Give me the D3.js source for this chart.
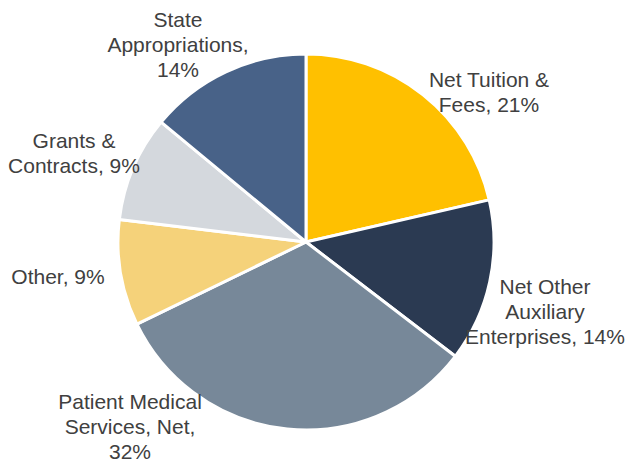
<!DOCTYPE html>
<meta charset="utf-8">
<title>Revenue Sources</title>
<style type="text/css">
	body { margin: 0; background: #ffffff; }
	text { font-family: "Liberation Sans", Arial, sans-serif; fill: #404040; }
</style>
<body>
<div id="chart"></div>
</body>
<script src="https://d3js.org/d3.v7.min.js"></script>
<script>

// slice data, clockwise from 12 o'clock
var categories = ["Net Tuition & Fees", "Net Other Auxiliary Enterprises", "Patient Medical Services, Net",
                  "Other", "Grants & Contracts", "State Appropriations"];
var shares = [21.4, 14.0, 32.4, 9.1, 9.1, 14.0];
var shareLabels = ["21%", "14%", "32%", "9%", "9%", "14%"];
// how each label is broken onto lines (last line carries the percent)
var labelLines = [
	["Net Tuition &", "Fees, {p}"],
	["Net Other", "Auxiliary", "Enterprises, {p}"],
	["Patient Medical", "Services, Net,", "{p}"],
	["Other, {p}"],
	["Grants &", "Contracts, {p}"],
	["State", "Appropriations,", "{p}"]
];

var colors = ["#ffc000", "#2b3a52", "#778899", "#f5d27a", "#d4d8dd", "#486288"];

var width = 627, height = 460;
var cx = 306, cy = 242, radius = 188;

// label centres (Excel "best fit" placement), relative to pie centre
var labelPos = [[183, -150], [239, 70], [-176, 185], [-248, 35], [-232, -89], [-128, -197]];

var svg = d3.select("#chart").append("svg")
		.attr("width", width)
		.attr("height", height);

var g = svg.append("g")
		.attr("transform", "translate(" + cx + "," + cy + ")");

var pie = d3.pie().sort(null).value(function(d) { return d; });
var arc = d3.arc().innerRadius(0).outerRadius(radius);

var arcs = pie(shares);

g.selectAll("path.slice")
		.data(arcs)
		.enter().append("path")
		.attr("class", "slice")
		.attr("d", arc)
		.attr("fill", function(d, i) { return colors[i]; })
		.attr("stroke", "#ffffff")
		.attr("stroke-width", 3)
		.attr("stroke-linejoin", "round");

var lineH = 25;
var labels = g.selectAll("text.lbl")
		.data(arcs)
		.enter().append("text")
		.attr("class", "lbl")
		.attr("text-anchor", "middle")
		.style("font-size", "21px");

labels.each(function(d, i) {
	var lines = labelLines[i];
	var t = d3.select(this);
	var y0 = labelPos[i][1] - (lines.length - 1) * lineH / 2;
	lines.forEach(function(s, k) {
		t.append("tspan")
			.attr("x", labelPos[i][0])
			.attr("y", y0 + k * lineH)
			.attr("dy", "0.35em")
			.text(s.replace("{p}", shareLabels[i]));
	});
});

</script>
